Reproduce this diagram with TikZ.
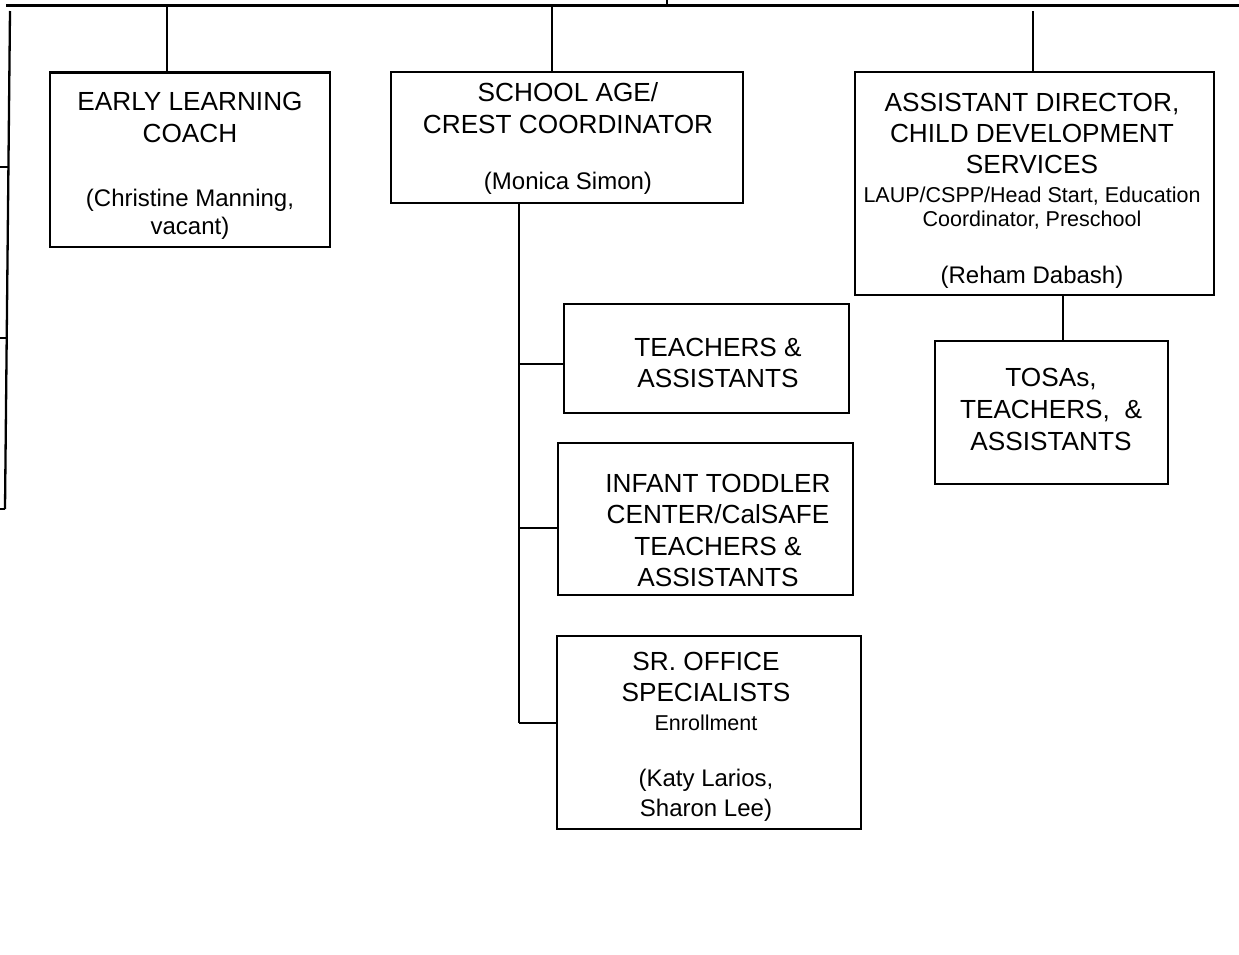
\documentclass[tikz,border=0pt]{standalone}
\usepackage{fontspec}
\setmainfont{Liberation Sans}
\newcommand{\tfont}{\fontsize{26.2}{31.5}\selectfont}
\newcommand{\nfont}{\fontsize{24}{31.5}\selectfont}
\newcommand{\sfont}{\fontsize{21.5}{31.5}\selectfont}
\tikzset{
  box/.style={draw, line width=2.3pt, rectangle, inner sep=0pt},
  txt/.style={anchor=base, inner sep=0pt, text width=400pt, align=flush center, font=\tfont},
  link/.style={line width=2.3pt},
  topline/.style={line width=3pt},
}
\begin{document}
\begin{tikzpicture}[x=1pt,y=-1pt]
\useasboundingbox (0,0) rectangle (1239,954);
% boxes
\node[box, minimum width=280pt, minimum height=174.5pt] (early) at (190,159.75) {};
\node[box, minimum width=352pt, minimum height=131pt] (school) at (567,137.5) {};
\node[box, minimum width=359pt, minimum height=223pt] (assist) at (1034.5,183.5) {};
\node[box, minimum width=285pt, minimum height=109pt] (teach) at (706.5,358.5) {};
\node[box, minimum width=295pt, minimum height=152pt] (infant) at (705.5,519) {};
\node[box, minimum width=304pt, minimum height=193pt] (sr) at (709,732.5) {};
\node[box, minimum width=233pt, minimum height=143pt] (tosas) at (1051.5,412.5) {};
% texts
\node[txt] (earlyT) at (190,110) {EARLY LEARNING\\[0.5pt]COACH\\[33pt]{\nfont (Christine Manning,}\\[-4pt]{\nfont vacant)}};
\node[txt] (schoolT) at (568,101) {SCHOOL AGE/\\[1pt]CREST COORDINATOR\\[24pt]{\nfont (Monica Simon)}};
\node[txt] (assistT) at (1032,111.4) {ASSISTANT DIRECTOR,\\[-0.5pt]CHILD DEVELOPMENT\\[-0.5pt]SERVICES\\[-2pt]{\sfont LAUP/CSPP/Head Start, Education}\\[-7.5pt]{\sfont Coordinator, Preschool}\\[25.5pt]{\nfont (Reham Dabash)}};
\node[txt] (teachT) at (718,356.4) {TEACHERS \&\\[-0.5pt]ASSISTANTS};
\node[txt] (infantT) at (718,492.4) {INFANT TODDLER\\[0pt]CENTER/CalSAFE\\[0pt]TEACHERS \&\\[-0.5pt]ASSISTANTS};
\node[txt] (srT) at (706,670.4) {SR. OFFICE\\[-0.5pt]SPECIALISTS\\[-2.2pt]{\sfont Enrollment}\\[24.4pt]{\nfont (Katy Larios,}\\[-1.5pt]{\nfont Sharon Lee)}};
\node[txt] (tosasT) at (1051,386.5) {TOSAs,\\[0.5pt]TEACHERS,\ \ \&\\[0pt]ASSISTANTS};
% connector coordinates
\coordinate (topL) at (6,5);
\coordinate (topR) at (1239,5);
\coordinate (upTop) at (667,0);
\coordinate (upBot) at (667,5);
\coordinate (leftA) at (10,11);
\coordinate (leftB) at (5,509);
\coordinate (tickA) at (9.4,167);
\coordinate (tickAL) at (0,167);
\coordinate (tickB) at (7.6,338);
\coordinate (tickBL) at (0,338);
\coordinate (tickCL) at (0,509);
\coordinate (eStem) at (167,5);
\coordinate (sStem) at (552,5);
\coordinate (aStem) at (1033,11);
\coordinate (spineTop) at (519,203);
\coordinate (j1) at (519,364);
\coordinate (j2) at (519,528);
\coordinate (j3) at (519,723);
\coordinate (tStem) at (1063,295);
% connectors
\draw[topline] (topL) -- (topR);
\draw[link] (upTop) -- (upBot);
\draw[link] (leftA) -- (leftB);
\draw[link] (tickAL) -- (tickA);
\draw[link] (tickBL) -- (tickB);
\draw[link] (tickCL) -- (leftB);
\draw[link] (eStem) -- (eStem |- early.north);
\draw[link] (sStem) -- (sStem |- school.north);
\draw[link] (aStem) -- (aStem |- assist.north);
\draw[link] (spineTop) -- (j3);
\draw[link] (j1) -- (j1 -| teach.west);
\draw[link] (j2) -- (j2 -| infant.west);
\draw[link] (j3) -- (j3 -| sr.west);
\draw[link] (tStem) -- (tStem |- tosas.north);
\end{tikzpicture}
\end{document}
